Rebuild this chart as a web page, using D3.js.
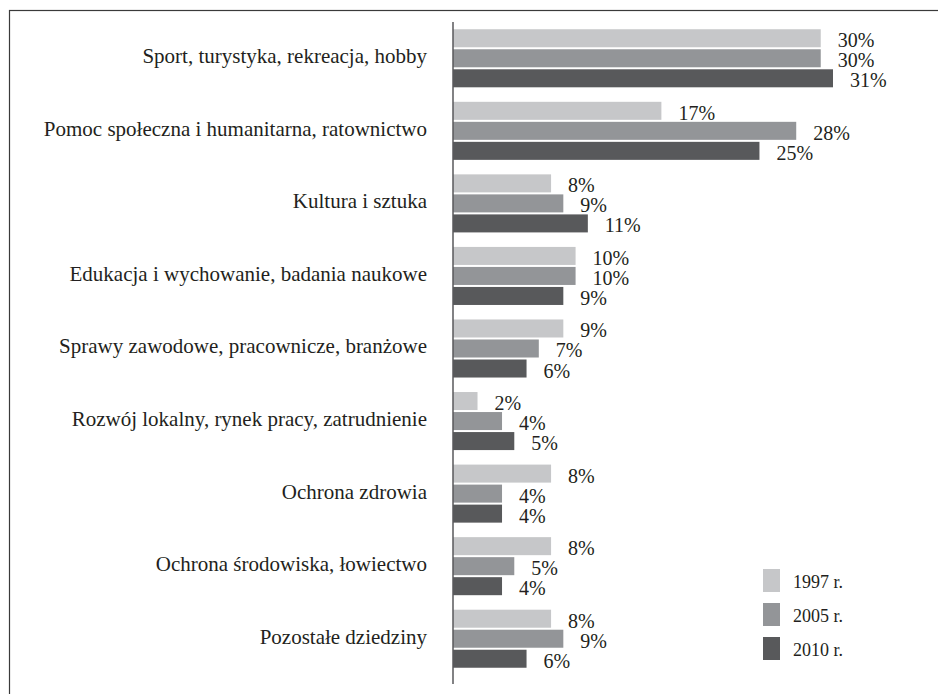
<!DOCTYPE html>
<html>
<head>
<meta charset="utf-8">
<script src="https://cdn.jsdelivr.net/npm/d3@7"></script>
<style>
  body { margin: 0; background: #fff; }
  svg { display: block; }
  text { font-family: "Liberation Serif", "Times New Roman", serif; fill: #231f20; }
</style>
</head>
<body>
<div id="chart"></div>
<script>
var categories = [
  "Sport, turystyka, rekreacja, hobby",
  "Pomoc społeczna i humanitarna, ratownictwo",
  "Kultura i sztuka",
  "Edukacja i wychowanie, badania naukowe",
  "Sprawy zawodowe, pracownicze, branżowe",
  "Rozwój lokalny, rynek pracy, zatrudnienie",
  "Ochrona zdrowia",
  "Ochrona środowiska, łowiectwo",
  "Pozostałe dziedziny"
];
var years = ["1997 r.", "2005 r.", "2010 r."];
var v1997 = [30, 17, 8, 10, 9, 2, 8, 8, 8];
var v2005 = [30, 28, 9, 10, 7, 4, 4, 5, 9];
var v2010 = [31, 25, 11, 9, 6, 5, 4, 4, 6];
var colors = ["#c6c7c9", "#939598", "#58595b"];

var series = [v1997, v2005, v2010];
var W = 938, H = 694;

var svg = d3.select("#chart").append("svg")
  .attr("width", W)
  .attr("height", H);

// frame (open at right and bottom, like the scan)
svg.append("rect")
  .attr("x", 9.5).attr("y", 10.5)
  .attr("width", 960).attr("height", 720)
  .attr("fill", "none")
  .attr("stroke", "#3a3a3a")
  .attr("stroke-width", 1.2);

var x = d3.scaleLinear().domain([0, 31]).range([453, 833]);

var y = d3.scaleBand()
  .domain(categories)
  .range([22, 675])
  .paddingInner(0.2)
  .paddingOuter(0.1);

var yIn = d3.scaleBand()
  .domain(d3.range(3))
  .range([0, y.bandwidth()])
  .paddingInner(0.1);

var group = svg.selectAll(".grp")
  .data(categories)
  .enter().append("g")
  .attr("class", "grp")
  .attr("transform", function(d) { return "translate(0," + y(d) + ")"; });

group.append("text")
  .attr("x", 427)
  .attr("y", y.bandwidth() / 2 + 5)
  .attr("text-anchor", "end")
  .style("font-size", "21px")
  .text(function(d) { return d; });

var bars = group.selectAll(".bar")
  .data(function(d, i) {
    return series.map(function(s, k) { return { k: k, v: s[i] }; });
  })
  .enter();

bars.append("rect")
  .attr("class", "bar")
  .attr("x", x(0))
  .attr("y", function(d) { return yIn(d.k); })
  .attr("width", function(d) { return x(d.v) - x(0); })
  .attr("height", yIn.bandwidth())
  .attr("fill", function(d) { return colors[d.k]; });

bars.append("text")
  .attr("x", function(d) { return x(d.v) + 17; })
  .attr("y", function(d) { return yIn(d.k) + yIn.bandwidth(); })
  .style("font-size", "20px")
  .text(function(d) { return d.v + "%"; });

// axis line
svg.append("line")
  .attr("x1", x(0)).attr("x2", x(0))
  .attr("y1", 22).attr("y2", 684)
  .attr("stroke", "#58595b")
  .attr("stroke-width", 1.5);

// legend
var legend = svg.selectAll(".leg")
  .data(years)
  .enter().append("g")
  .attr("class", "leg")
  .attr("transform", function(d, i) { return "translate(763," + (569 + i * 34) + ")"; });

legend.append("rect")
  .attr("width", 17)
  .attr("height", 23)
  .attr("fill", function(d, i) { return colors[i]; });

legend.append("text")
  .attr("x", 30)
  .attr("y", 19)
  .style("font-size", "18px")
  .text(function(d) { return d; });
</script>
</body>
</html>
